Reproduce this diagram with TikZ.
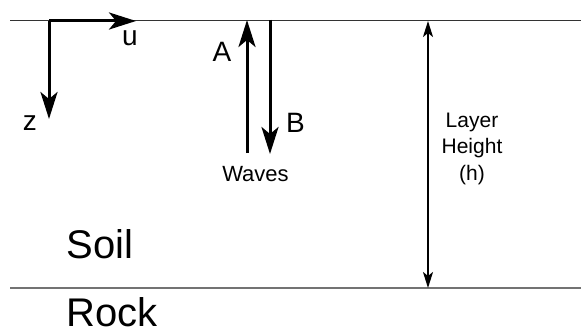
\documentclass[tikz,border=0pt]{standalone}
\usepackage{fontspec}
\setmainfont{Liberation Sans}
\usetikzlibrary{arrows.meta}
\tikzset{
  bigarrow/.style={line width=3pt,-{Stealth[length=27pt,width=17pt,inset=7pt]}},
  hgtarrow/.style={line width=2pt,{Stealth[length=16pt,width=10pt,inset=4pt]}-{Stealth[length=16pt,width=10pt,inset=4pt]}},
  surface/.style={line width=1pt,draw=black!80},
  interface/.style={line width=1.5pt,draw=black!55},
  lbl/.style={anchor=base,inner sep=0pt,font=\fontsize{28}{30}\selectfont},
  small/.style={anchor=base,inner sep=0pt,font=\fontsize{21}{27}\selectfont},
  layer/.style={anchor=base,inner sep=0pt,font=\fontsize{40}{44}\selectfont}
}
\begin{document}
\begin{tikzpicture}[x=1pt,y=-1pt]
\useasboundingbox (0,0) rectangle (581,329);
% layer boundaries
\coordinate (tl) at (10,21);
\coordinate (tr) at (581,21);
\coordinate (bl) at (10,288);
\coordinate (br) at (581,288);
\draw[surface] (tl) -- (tr);
\draw[interface] (bl) -- (br);
% axes
\coordinate (o) at (49,21);
\coordinate (ut) at (136,21);
\coordinate (zt) at (49,119);
\draw[bigarrow] (o) -- (ut);
\draw[bigarrow] (o) -- (zt);
\node[lbl] (u) at (130,46) {u};
\node[lbl] (z) at (30,130) {z};
% waves
\coordinate (a0) at (247,153);
\coordinate (a1) at (247,20);
\coordinate (b0) at (270,20);
\coordinate (b1) at (270,154);
\draw[bigarrow] (a0) -- (a1);
\draw[bigarrow] (b0) -- (b1);
\node[lbl] (A) at (222,62) {A};
\node[lbl] (B) at (295.5,132) {B};
\node[small,font=\fontsize{22}{26}\selectfont] (waves) at (255.5,181) {Waves};
% layer height
\coordinate (h0) at (428,21);
\coordinate (h1) at (428,288);
\draw[hgtarrow] (h0) -- (h1);
\node[small] (l1) at (472,127) {Layer};
\node[small] (l2) at (472,153) {Height};
\node[small] (l3) at (472,180) {(h)};
% layer names
\node[layer] (soil) at (100,258) {Soil};
\node[layer] (rock) at (112,326.5) {Rock};
\end{tikzpicture}
\end{document}
